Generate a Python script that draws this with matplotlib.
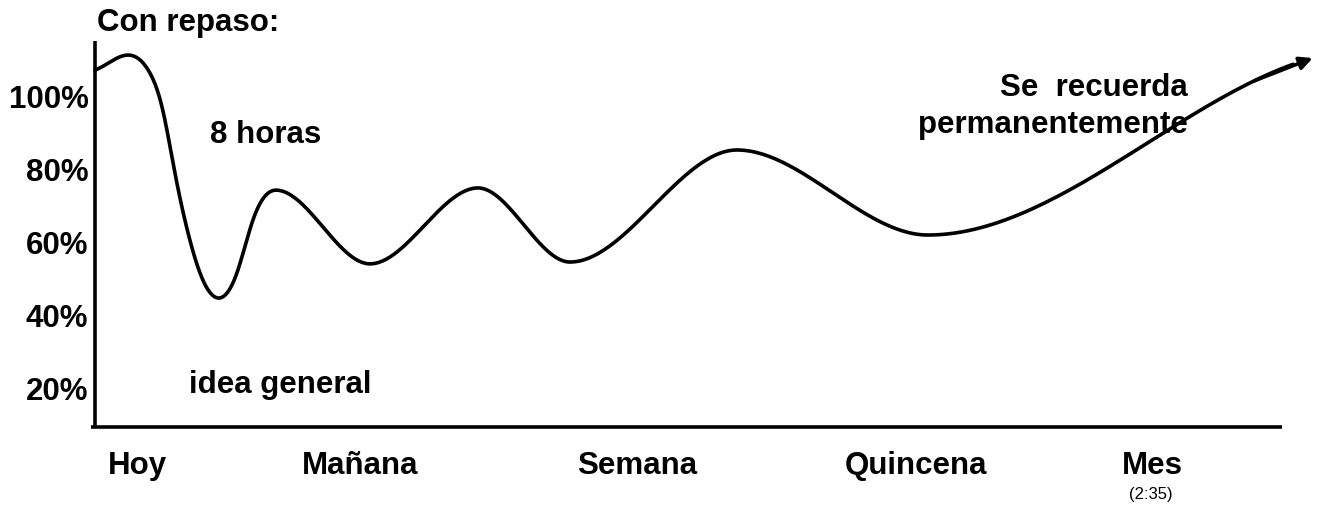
import numpy as np
import matplotlib
matplotlib.use("Agg")
import matplotlib.pyplot as plt

# ---- data (x: abstract time units 0..100 along the axis, y: % recall) ----
# points
curve_x = [0.0, 2.70, 4.63, 5.65, 6.74, 8.00, 8.85, 10.36, 11.96, 13.31, 15.25,
           23.17, 32.27, 40.02, 54.09, 70.18, 102.6]
curve_y = [108.2, 112.3, 107.4, 98.1, 80.0, 61.6, 52.6, 45.75, 52.6, 67.1, 75.3,
           55.1, 75.9, 55.6, 86.3, 63.0, 111.5]
start_slope = 1.14
end_slope = 0.91
n_smooth = 11   # first points joined by a C2 spline, the waves after by flat-topped arcs

ytick_values = [100, 80, 60, 40, 20]
ytick_labels = ["100%", "80%", "60%", "40%", "20%"]

xcat_labels = ["Hoy", "Mañana", "Semana", "Quincena", "Mes"]
xcat_pos = [3.54, 22.33, 45.65, 69.15, 89.1]

title_text = "Con repaso:"
note_8h = "8 horas"
note_idea = "idea general"
note_perm = ["Se  recuerda", "permanentemente"]
note_time = "(2:35)"


def clamped_slopes(xs, ys, m0, mn):
    xs = np.asarray(xs, float)
    ys = np.asarray(ys, float)
    n = len(xs)
    h = np.diff(xs)
    d = np.diff(ys) / h
    A = np.zeros((n, n))
    b = np.zeros(n)
    A[0, 0] = 1
    b[0] = m0
    A[-1, -1] = 1
    b[-1] = mn
    for i in range(1, n - 1):
        A[i, i - 1] = h[i]
        A[i, i] = 2 * (h[i - 1] + h[i])
        A[i, i + 1] = h[i - 1]
        b[i] = 3 * (h[i] * d[i - 1] + h[i - 1] * d[i])
    return np.linalg.solve(A, b)


def hermite_curve(xs, ys, ms, n=60):
    xs = np.asarray(xs, float)
    ys = np.asarray(ys, float)
    m = np.asarray(ms, float)
    X, Y = [], []
    for i in range(len(xs) - 1):
        hh = xs[i + 1] - xs[i]
        t = np.linspace(0, 1, n)
        h00 = 2 * t**3 - 3 * t**2 + 1
        h10 = t**3 - 2 * t**2 + t
        h01 = -2 * t**3 + 3 * t**2
        h11 = t**3 - t**2
        X.append(xs[i] + t * hh)
        Y.append(h00 * ys[i] + h10 * hh * m[i] + h01 * ys[i + 1] + h11 * hh * m[i + 1])
    return np.concatenate(X), np.concatenate(Y)


slopes = np.zeros(len(curve_x))
slopes[:n_smooth] = clamped_slopes(curve_x[:n_smooth], curve_y[:n_smooth], start_slope, 0.0)
slopes[-1] = end_slope

fig = plt.figure(figsize=(13.21, 5.08), dpi=100)
ax = fig.add_axes([0, 0, 1, 1])
ax.set_xlim(-8.0, 103.3)
ax.set_ylim(-11.8, 127.4)
ax.axis("off")

FONT = "Liberation Sans"
FS = 22.5
LW = 2.6

# axes lines
ax.plot([0, 0], [10.4, 116.2], color="black", lw=LW, solid_capstyle="butt")
ax.plot([-0.35, 100.0], [10.4, 10.4], color="black", lw=LW, solid_capstyle="butt")

# curve
cx, cy = hermite_curve(curve_x, curve_y, slopes)
ax.plot(cx[:-3], cy[:-3], color="black", lw=LW, solid_capstyle="round",
        solid_joinstyle="round")
ax.annotate("", xy=(cx[-1], cy[-1]), xytext=(cx[-10], cy[-10]),
            arrowprops=dict(arrowstyle="-|>", color="black", lw=LW,
                            mutation_scale=19, shrinkA=0, shrinkB=0))

# y tick labels
for v, lab in zip(ytick_values, ytick_labels):
    ax.text(-0.55, v, lab, ha="right", va="center", fontsize=FS,
            fontweight="bold", family=FONT)

# x category labels
for p, lab in zip(xcat_pos, xcat_labels):
    ax.text(p, -0.3, lab, ha="center", va="center", fontsize=FS,
            fontweight="bold", family=FONT)

ax.text(0.17, 121.1, title_text, ha="left", va="center", fontsize=FS,
        fontweight="bold", family=FONT)
ax.text(14.4, 90.4, note_8h, ha="center", va="center", fontsize=FS,
        fontweight="bold", family=FONT)
ax.text(15.6, 21.9, note_idea, ha="center", va="center", fontsize=FS,
        fontweight="bold", family=FONT)
ax.text(92.1, 103.3, note_perm[0], ha="right", va="center", fontsize=FS,
        fontweight="bold", family=FONT)
ax.text(92.1, 93.2, note_perm[1], ha="right", va="center", fontsize=FS,
        fontweight="bold", family=FONT)
ax.text(89.0, -8.0, note_time, ha="center", va="center", fontsize=12,
        family=FONT)

fig.savefig("out.png", dpi=100)
